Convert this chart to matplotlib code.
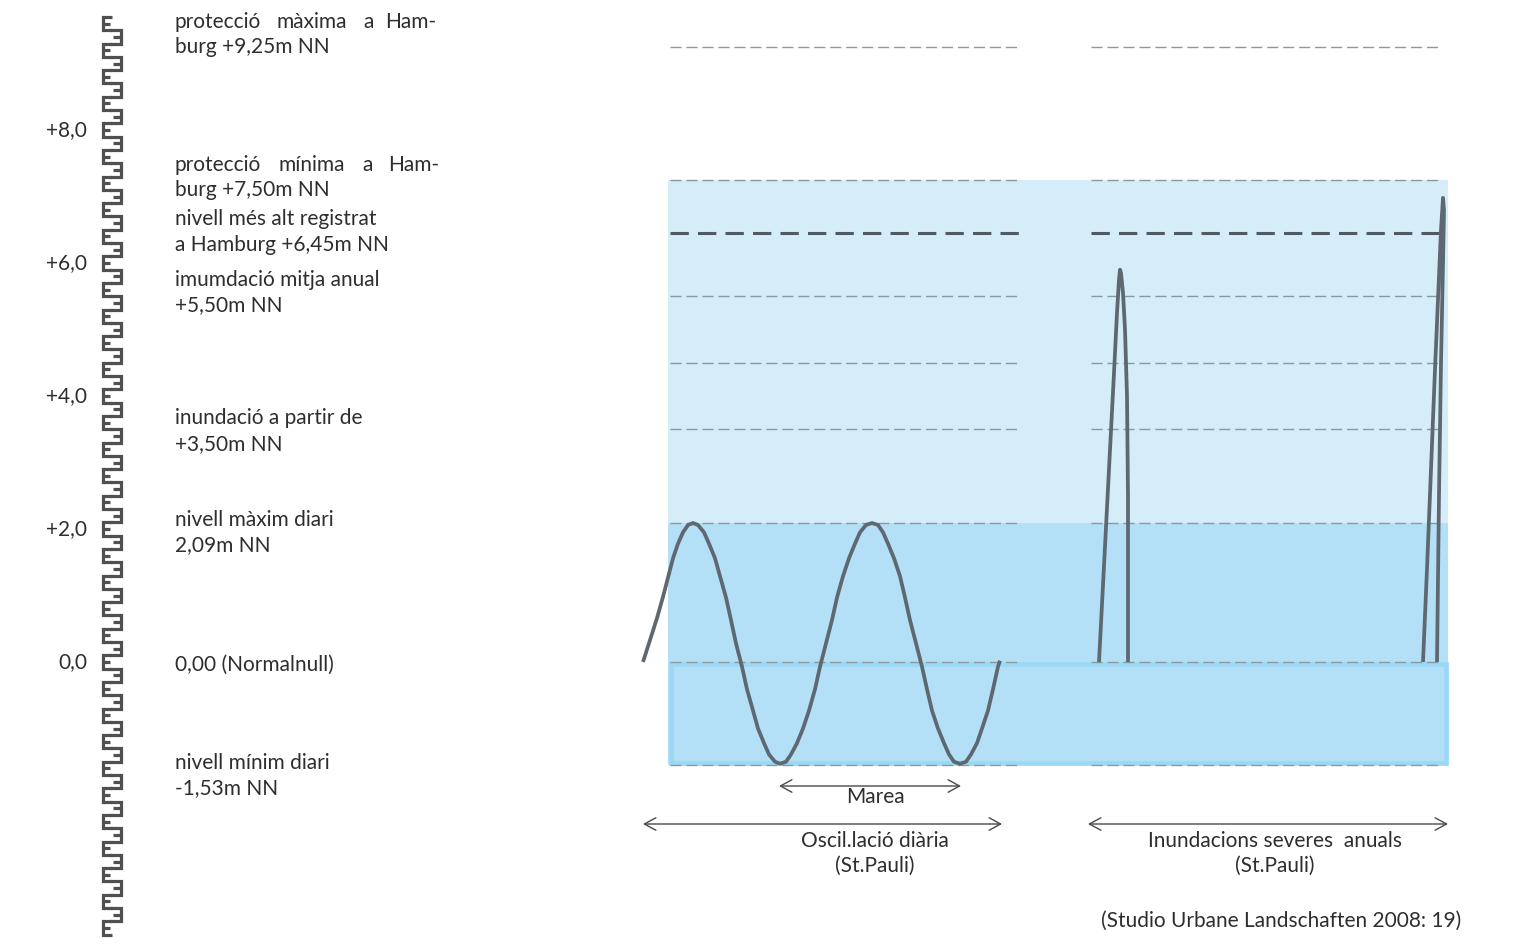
"""
    Pegel Hamburg: Wasserstaende, Tide und Sturmfluten (St. Pauli)
"""

import matplotlib.pyplot as plt
from matplotlib.patches import Rectangle
from matplotlib.collections import LineCollection

plt.rcParams['font.family'] = ['Lato', 'DejaVu Sans']

# Pegelskala (Beschriftung der Achse in m NN)
skala_werte = [8.0, 6.0, 4.0, 2.0, 0.0]
skala_texte = ['+8,0', '+6,0', '+4,0', '+2,0', '0,0']

# gezeichnete Hoehen der gestrichelten Linien (m NN, aus dem Bild gelesen)
niveaus = [9.25, 7.25, 6.45, 5.50, 4.50, 3.50, 2.09, 0.00, -1.55]
niveau_stark = 6.45

# Tidekurve: x in Zeiteinheiten (Bildbreite), Wasserstand in m NN
tide_x = [643, 650, 657, 663, 668, 673, 678, 683, 688,
          693, 698, 704, 709, 715, 720, 726, 731, 736, 742, 747, 753, 758,
          764, 769, 775,
          780, 786, 791, 797, 803, 809, 815, 820, 826, 832, 837, 843, 849,
          855, 860, 866,
          872, 878, 883, 888, 894, 900, 905, 910, 916, 922, 927, 932, 938,
          944, 949, 954,
          960, 966, 971, 977, 982, 988, 993, 998, 1000]
tide_y = [0.00, 0.33, 0.66, 0.98, 1.27, 1.56, 1.78, 1.95, 2.06,
          2.09, 2.06, 1.95, 1.78, 1.56, 1.29, 0.97, 0.63, 0.28, -0.07, -0.41,
          -0.73, -1.00, -1.22, -1.39, -1.50,
          -1.53, -1.50, -1.39, -1.22, -1.00, -0.73, -0.41, -0.07, 0.28, 0.63,
          0.97, 1.29, 1.56, 1.78, 1.95, 2.06,
          2.09, 2.06, 1.95, 1.78, 1.56, 1.29, 0.97, 0.63, 0.28, -0.07, -0.41,
          -0.73, -1.00, -1.22, -1.39, -1.50,
          -1.53, -1.50, -1.39, -1.22, -1.00, -0.73, -0.41, -0.07, 0.02]

# Sturmfluten (zwei Spitzen)
flut1_x = [1099, 1104, 1109, 1114, 1117, 1119, 1120, 1121, 1123, 1125,
           1127, 1128, 1128]
flut1_y = [0.00, 1.45, 2.90, 4.35, 5.25, 5.75, 5.90, 5.85, 5.55, 5.00,
           4.00, 2.50, 0.00]
flut2_x = [1423, 1427, 1431, 1435, 1439, 1441, 1443, 1444, 1443, 1441,
           1439, 1437]
flut2_y = [0.00, 1.40, 2.90, 4.40, 5.80, 6.50, 6.98, 6.80, 6.00, 4.50,
           2.50, 0.00]

# Beschriftungen links (Zeilen, Pixel-y)
beschriftungen = [
    ('burg +9,25m NN', 47),
    ('burg +7,50m NN', 190),
    ('nivell més alt registrat', 219),
    ('a Hamburg +6,45m NN', 245),
    ('imumdació mitja anual', 280),
    ('+5,50m NN', 305),
    ('inundació a partir de', 418),
    ('+3,50m NN', 444),
    ('nivell màxim diari', 520),
    ('2,09m NN', 545),
    ('0,00 (Normalnull)', 665),
    ('nivell mínim diari', 763),
    ('-1,53m NN', 788),
]
# Blocksatz-Zeilen (Wort, x)
blocksatz = [
    ([('protecció', 174), ('màxima', 277), ('a', 363), ('Ham-', 385)], 22),
    ([('protecció', 174), ('mínima', 278), ('a', 362), ('Ham-', 388)], 165),
]

PX_PRO_M = 66.5
NULL_PX = 662
TEXTFARBE = '#2e2e2e'
LINIE = '#5d6870'
FS = 15


def m(py):
    """ Pixelhoehe -> m NN """
    return (NULL_PX - py) / PX_PRO_M


def zeichne_pegel(ax, k_unten=-20, k_oben=48, schritt=0.2):
    """ Pegellatte mit abwechselnden E-Bloecken (je 20 cm) """
    segmente = []
    for k in range(k_unten, k_oben + 1):
        c = k * schritt
        o, u = c + schritt / 2, c - schritt / 2
        if k % 2 == 0:
            segmente += [[(112, o), (102.5, o), (102.5, u), (112, u)],
                         [(102.5, c), (110, c)]]
        else:
            segmente += [[(110, o), (120.5, o), (120.5, u), (110, u)],
                         [(120.5, c), (113, c)]]
    lc = LineCollection(segmente, colors='#505050', linewidths=2.3,
                        capstyle='butt', joinstyle='miter')
    ax.add_collection(lc)


def main():
    fig = plt.figure(figsize=(15.4, 9.44), dpi=100, facecolor='w')
    ax = fig.add_axes([0, 0, 1, 1])
    ax.set_xlim(0, 1540)
    ax.set_ylim(m(944), m(0))
    ax.axis('off')

    # Wasserflaechen
    ax.add_patch(Rectangle((668, niveaus[6]), 780, niveaus[1] - niveaus[6],
                           facecolor='#d5ecf9', edgecolor='none', zorder=1))
    ax.add_patch(Rectangle((668, niveaus[-1]), 780,
                           niveaus[6] - niveaus[-1],
                           facecolor='#b3e0f6', edgecolor='none', zorder=1))
    rand = 2.5 / PX_PRO_M
    ax.add_patch(Rectangle((670.5, niveaus[-1] + rand), 775,
                           niveaus[7] - niveaus[-1] - 2 * rand,
                           facecolor='#b3e0f6', edgecolor='#9bd8f5',
                           linewidth=3.4, zorder=2))

    # gestrichelte Niveaus
    for h in niveaus:
        stark = h == niveau_stark
        for x0, x1 in [(670, 1020), (1091, 1442)]:
            ax.plot([x0, x1], [h, h], linestyle=(0, (6, 3)) if stark
                    else (0, (8, 3.5)),
                    color='#4f5a62' if stark else '#8c989f',
                    linewidth=2.2 if stark else 1.0, zorder=3)

    # Tide und Sturmfluten
    for xs, ys in [(tide_x, tide_y), (flut1_x, flut1_y), (flut2_x, flut2_y)]:
        ax.plot(xs, ys, color=LINIE, linewidth=2.7, zorder=4,
                solid_capstyle='butt', solid_joinstyle='round')

    # Pegel und Skala
    zeichne_pegel(ax)
    for w, t in zip(skala_werte, skala_texte):
        ax.text(87, w, t, ha='right', va='center', fontsize=FS,
                color=TEXTFARBE)

    # Beschriftungen
    for t, py in beschriftungen:
        ax.text(175, m(py), t, ha='left', va='center', fontsize=FS,
                color=TEXTFARBE)
    for woerter, py in blocksatz:
        for w, px in woerter:
            ax.text(px, m(py), w, ha='left', va='center', fontsize=FS,
                    color=TEXTFARBE)

    # Pfeile
    pfeil = dict(arrowstyle='<->,head_length=0.55,head_width=0.3',
                 color='#4a4a4a', lw=1.0, mutation_scale=15,
                 shrinkA=0, shrinkB=0)
    for x0, x1, py in [(779, 961, 786), (643, 1002, 824), (1088, 1448, 824)]:
        ax.annotate('', xy=(x0, m(py)), xytext=(x1, m(py)), arrowprops=pfeil)
    ax.text(875, m(797), 'Marea', ha='center', va='center', fontsize=FS,
            color=TEXTFARBE)
    ax.text(875, m(841), 'Oscil.lació diària', ha='center', va='center',
            fontsize=FS, color=TEXTFARBE)
    ax.text(875, m(866), '(St.Pauli)', ha='center', va='center',
            fontsize=FS, color=TEXTFARBE)
    ax.text(1275, m(841), 'Inundacions severes  anuals', ha='center',
            va='center', fontsize=FS, color=TEXTFARBE)
    ax.text(1275, m(866), '(St.Pauli)', ha='center', va='center',
            fontsize=FS, color=TEXTFARBE)
    ax.text(1461, m(921), '(Studio Urbane Landschaften 2008: 19)',
            ha='right', va='center', fontsize=FS, color=TEXTFARBE)

    fig.savefig('out.png', dpi=100, facecolor='w')


if __name__ == "__main__":
    main()
